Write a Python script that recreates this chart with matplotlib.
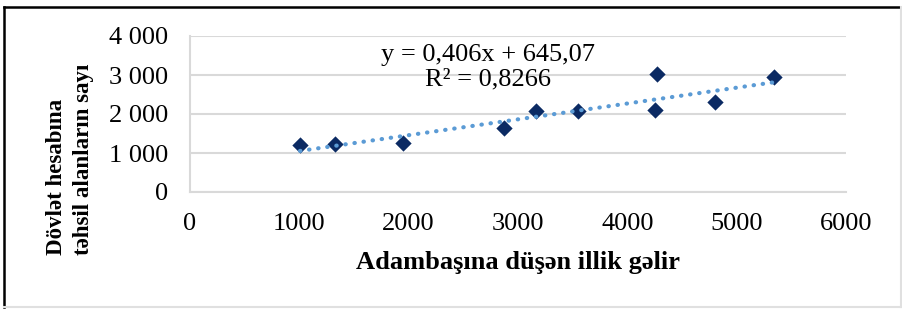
import numpy as np
import matplotlib
matplotlib.use("Agg")
import matplotlib.pyplot as plt
from matplotlib.lines import Line2D

plt.rcParams['font.family'] = ['Liberation Serif', 'DejaVu Serif']

# Data
income = [1006, 1327, 1950, 2871, 3161, 3550, 4252, 4271, 4799, 5342]
students = [1200, 1233, 1259, 1633, 2067, 2067, 2110, 3020, 2315, 2946]

# Trendline shown on the chart
slope = 0.406
intercept = 645.07
r2_text = "0,8266"

x_ticks = [0, 1000, 2000, 3000, 4000, 5000, 6000]
x_tick_labels = ["0", "1000", "2000", "3000", "4000", "5000", "6000"]
y_ticks = [0, 1000, 2000, 3000, 4000]
y_tick_labels = ["0", "1 000", "2 000", "3 000", "4 000"]

fig = plt.figure(figsize=(9.02, 3.09), dpi=100)
ax = fig.add_axes([190 / 902, 1 - 192 / 309, 656 / 902, 156 / 309])

ax.scatter(income, students, marker="D", s=8.3 ** 2, color="#0B2A63", zorder=3, linewidths=0)

# Linear trendline (dotted)
xt = np.array([min(income), max(income)])
ax.plot(xt, slope * xt + intercept, color="#5B9BD5", linewidth=3.0,
        linestyle=(0, (0.1, 2.1)), dash_capstyle="round", zorder=4)

ax.set_xlim(0, 6000)
ax.set_ylim(0, 4000)
ax.set_xticks(x_ticks)
ax.set_xticklabels(x_tick_labels)
ax.set_yticks(y_ticks)
ax.set_yticklabels(y_tick_labels)
ax.tick_params(axis="both", length=0, labelsize=19)
ax.tick_params(axis="y", pad=16)
ax.tick_params(axis="x", pad=15)

ax.grid(axis="y", color="#D9D9D9", linewidth=1.5)
ax.set_axisbelow(True)
for s in ["top", "right"]:
    ax.spines[s].set_visible(False)
for s in ["left", "bottom"]:
    ax.spines[s].set_color("#D9D9D9")
    ax.spines[s].set_linewidth(1.5)

ax.text(0.454, 0.80, "y = 0,406x + 645,07\nR² = " + r2_text, transform=ax.transAxes,
        ha="center", va="center", fontsize=19, linespacing=1.2)

fig.text(518 / 902, 1 - 262 / 309, "Adambaşına düşən illik gəlir",
         ha="center", va="center", fontsize=19, fontweight="bold")
fig.text(70 / 902, 1 - 255 / 309, "Dövlət hesabına\ntəhsil alanların sayı",
         ha="left", va="center", rotation=90, rotation_mode="anchor",
         fontsize=16.5, fontweight="bold", multialignment="left", linespacing=1.4)

# outer frame
fig.add_artist(Line2D([4 / 902, 902 / 902], [1 - 6.5 / 309, 1 - 6.5 / 309], color="black", linewidth=1.8))
fig.add_artist(Line2D([4 / 902, 4 / 902], [1 - 6.5 / 309, 1 - 307 / 309], color="black", linewidth=1.8))
fig.add_artist(Line2D([4 / 902, 901 / 902], [1 - 306.5 / 309, 1 - 306.5 / 309], color="#E0E0E0", linewidth=1.5))
fig.add_artist(Line2D([900.5 / 902, 900.5 / 902], [1 - 6.5 / 309, 1 - 307 / 309], color="#E0E0E0", linewidth=1.5))

fig.savefig("out.png", dpi=100)
